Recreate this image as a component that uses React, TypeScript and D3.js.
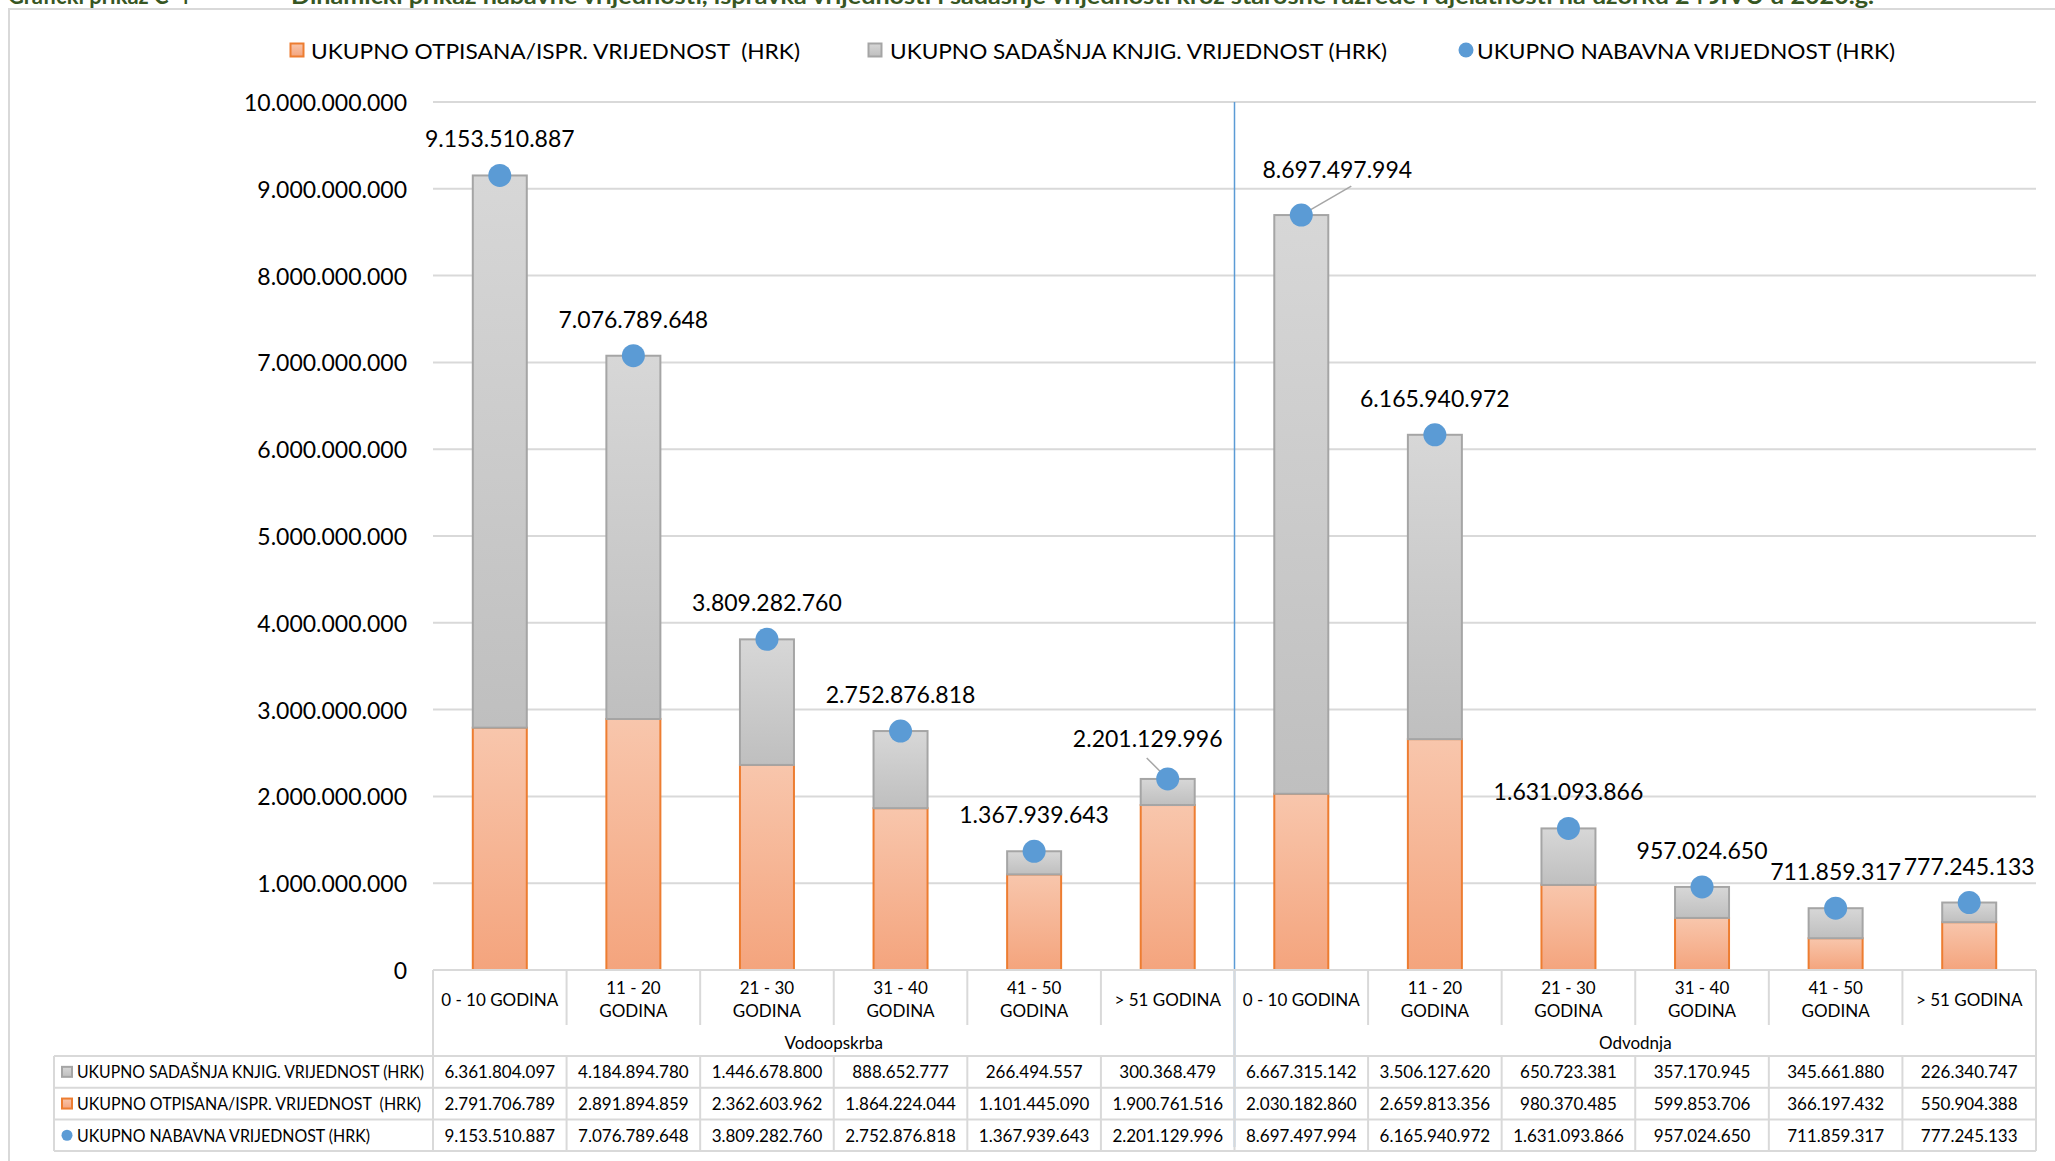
import React from "react";
import * as d3 from "d3";

// ---------------- DATA ----------------
const categories = [
  "0 - 10 GODINA",
  "11 - 20\nGODINA",
  "21 - 30\nGODINA",
  "31 - 40\nGODINA",
  "41 - 50\nGODINA",
  "> 51 GODINA",
];
const groups = ["Vodoopskrba", "Odvodnja"];

const sadasnja = [
  6361804097, 4184894780, 1446678800, 888652777, 266494557, 300368479,
  6667315142, 3506127620, 650723381, 357170945, 345661880, 226340747,
];
const otpisana = [
  2791706789, 2891894859, 2362603962, 1864224044, 1101445090, 1900761516,
  2030182860, 2659813356, 980370485, 599853706, 366197432, 550904388,
];
const nabavna = [
  9153510887, 7076789648, 3809282760, 2752876818, 1367939643, 2201129996,
  8697497994, 6165940972, 1631093866, 957024650, 711859317, 777245133,
];

const nameOtp = "UKUPNO OTPISANA/ISPR. VRIJEDNOST  (HRK)";
const nameSad = "UKUPNO SADAŠNJA KNJIG. VRIJEDNOST (HRK)";
const nameNab = "UKUPNO NABAVNA VRIJEDNOST (HRK)";

const yMax = 10000000000;
const yStep = 1000000000;

const titleLeft = "Grafički prikaz C-4";
const titleRight =
  "Dinamički prikaz nabavne vrijednosti, ispravka vrijednosti i sadašnje vrijednosti kroz starosne razrede i djelatnosti na uzorku 24 JIVU u 2020.g.";

// label nudges (index -> offset) for the two moved data labels with leader lines
const labelNudge: Record<number, { dx: number; dy: number; lx: number; ly: number }> = {
  5: { dx: -20, dy: -4, lx: -1, ly: 20 },
  6: { dx: 36, dy: -9, lx: 14, ly: 17 },
};

// ---------------- STYLE ----------------
const W = 2055;
const H = 1161;
const FONT = "Lato, 'Open Sans', sans-serif";
const GRID = "#D9D9D9";
const BLUE = "#5B9BD5";

const fmt = d3
  .formatLocale({ decimal: ",", thousands: ".", grouping: [3], currency: ["", ""] })
  .format(",d");

export default function App() {
  const n = groups.length * categories.length;
  const idx = d3.range(n);
  const plotLeft = 433;
  const plotRight = 2036;
  const yTop = 102;
  const yBase = 970;

  const x = d3.scaleBand<number>().domain(idx).range([plotLeft, plotRight]).padding(0);
  const y = d3.scaleLinear().domain([0, yMax]).range([yBase, yTop]);
  const bw = x.bandwidth();
  const barW = 54;
  const yTicks = d3.range(0, yMax + 1, yStep);

  const tableTop = 1056;
  const rowH = 31.7;
  const rows = [
    { name: nameSad, values: sadasnja, key: "sad", textLen: 347 },
    { name: nameOtp, values: otpisana, key: "otp", textLen: 344 },
    { name: nameNab, values: nabavna, key: "nab", textLen: 293 },
  ];
  const tableBottom = tableTop + rowH * 3;

  const key = (k: string, cx: number, cy: number, s: number) => {
    if (k === "nab") return <circle cx={cx} cy={cy} r={s / 2 + 0.5} fill={BLUE} />;
    return (
      <rect
        x={cx - s / 2}
        y={cy - s / 2}
        width={s}
        height={s}
        fill={k === "otp" ? "url(#gOrange)" : "url(#gGray)"}
        stroke={k === "otp" ? "#ED7D31" : "#A5A5A5"}
        strokeWidth={2}
      />
    );
  };

  return (
    <svg
      width={W}
      height={H}
      style={{ position: "absolute", left: 0, top: 0, background: "#fff" }}
      fontFamily={FONT}
    >
      <defs>
        <linearGradient id="gGray" x1="0" y1="0" x2="0" y2="1">
          <stop offset="0" stopColor="#D7D7D7" />
          <stop offset="1" stopColor="#BFBFBF" />
        </linearGradient>
        <linearGradient id="gOrange" x1="0" y1="0" x2="0" y2="1">
          <stop offset="0" stopColor="#F8C6AC" />
          <stop offset="1" stopColor="#F4A47D" />
        </linearGradient>
      </defs>
      <rect width={W} height={H} fill="#fff" />

      {/* clipped title strip */}
      <text x={8} y={4} fontSize={22} fontWeight={700} fill="#375623">
        {titleLeft}
      </text>
      <text
        x={291}
        y={4}
        fontSize={22}
        fontWeight={700}
        fill="#375623"
        textLength={1583}
        lengthAdjust="spacingAndGlyphs"
      >
        {titleRight}
      </text>

      {/* chart frame */}
      <rect x={9} y={9} width={W + 20} height={H + 20} fill="none" stroke={GRID} strokeWidth={2} />

      {/* legend */}
      <g fontSize={22} fill="#000">
        {key("otp", 297, 50, 13)}
        <text x={311} y={50} dominantBaseline="central" textLength={489} lengthAdjust="spacingAndGlyphs" style={{ whiteSpace: "pre" }}>
          {nameOtp}
        </text>
        {key("sad", 875, 50, 13)}
        <text x={890} y={50} dominantBaseline="central" textLength={497} lengthAdjust="spacingAndGlyphs">
          {nameSad}
        </text>
        {key("nab", 1466, 50, 14)}
        <text x={1477} y={50} dominantBaseline="central" textLength={418} lengthAdjust="spacingAndGlyphs">
          {nameNab}
        </text>
      </g>

      {/* gridlines */}
      {yTicks.map((t) => (
        <line key={t} x1={plotLeft} x2={plotRight} y1={y(t)} y2={y(t)} stroke={GRID} strokeWidth={2} />
      ))}
      {/* y labels */}
      {yTicks.map((t) => (
        <text key={"l" + t} x={407} y={y(t)} textAnchor="end" dominantBaseline="central" fontSize={23} fill="#000">
          {fmt(t)}
        </text>
      ))}

      {/* bars */}
      {idx.map((i) => {
        const cx = (x(i) as number) + bw / 2;
        const yO = y(otpisana[i]);
        const yS = y(otpisana[i] + sadasnja[i]);
        return (
          <g key={"b" + i}>
            <rect x={cx - barW / 2} y={yO} width={barW} height={yBase - yO} fill="url(#gOrange)" stroke="#ED7D31" strokeWidth={2} />
            <rect x={cx - barW / 2} y={yS} width={barW} height={yO - yS} fill="url(#gGray)" stroke="#A5A5A5" strokeWidth={2} />
          </g>
        );
      })}

      {/* separator between groups */}
      <line
        x1={x(categories.length) as number}
        x2={x(categories.length) as number}
        y1={yTop}
        y2={tableBottom - 4}
        stroke={BLUE}
        strokeWidth={1.5}
      />

      {/* dots + labels */}
      {idx.map((i) => {
        const cx = (x(i) as number) + bw / 2;
        const cy = y(nabavna[i]);
        const nud = labelNudge[i];
        const lx = cx + (nud ? nud.dx : 0);
        const ly = cy - 37 + (nud ? nud.dy : 0);
        return (
          <g key={"d" + i}>
            {nud && (
              <line x1={lx + nud.lx} y1={ly + nud.ly} x2={cx} y2={cy} stroke="#A6A6A6" strokeWidth={1.5} />
            )}
            <circle cx={cx} cy={cy} r={11.5} fill={BLUE} />
            <text x={lx} y={ly} textAnchor="middle" dominantBaseline="central" fontSize={23} fill="#000">
              {fmt(nabavna[i])}
            </text>
          </g>
        );
      })}

      {/* data table */}
      <g stroke={GRID} strokeWidth={2}>
        <line x1={plotLeft} x2={plotRight} y1={yBase} y2={yBase} />
        {[0, 1, 2, 3].map((r) => (
          <line key={"h" + r} x1={54} x2={plotRight} y1={tableTop + r * rowH} y2={tableTop + r * rowH} />
        ))}
        <line x1={54} x2={54} y1={tableTop} y2={tableBottom} />
        {d3.range(n + 1).map((c) => {
          const xx = c < n ? (x(c) as number) : plotRight;
          const full = c % categories.length === 0;
          return (
            <g key={"v" + c}>
              <line x1={xx} x2={xx} y1={yBase} y2={full ? tableBottom : 1025} />
              {!full && <line x1={xx} x2={xx} y1={tableTop} y2={tableBottom} />}
            </g>
          );
        })}
      </g>

      {/* category labels */}
      <g fontSize={17} fill="#000" textAnchor="middle">
        {idx.map((i) => {
          const cx = (x(i) as number) + bw / 2;
          const lines = categories[i % categories.length].split("\n");
          return lines.length === 1 ? (
            <text key={"c" + i} x={cx} y={999} dominantBaseline="central">
              {lines[0]}
            </text>
          ) : (
            <g key={"c" + i}>
              <text x={cx} y={987} dominantBaseline="central">{lines[0]}</text>
              <text x={cx} y={1010} dominantBaseline="central">{lines[1]}</text>
            </g>
          );
        })}
        {groups.map((g, gi) => {
          const x0 = x(gi * categories.length) as number;
          const x1 = x0 + bw * categories.length;
          return (
            <text key={g} x={(x0 + x1) / 2} y={1042} dominantBaseline="central">
              {g}
            </text>
          );
        })}
      </g>

      {/* table rows */}
      <g fontSize={17} fill="#000">
        {rows.map((r, ri) => {
          const cy = tableTop + rowH * ri + rowH / 2;
          return (
            <g key={r.key}>
              {key(r.key, r.key === "nab" ? 67 : 67, cy, 10)}
              <text x={77} y={cy} dominantBaseline="central" textLength={r.textLen} lengthAdjust="spacingAndGlyphs" style={{ whiteSpace: "pre" }}>
                {r.name}
              </text>
              {idx.map((i) => (
                <text key={i} x={(x(i) as number) + bw / 2} y={cy} textAnchor="middle" dominantBaseline="central">
                  {fmt(r.values[i])}
                </text>
              ))}
            </g>
          );
        })}
      </g>
    </svg>
  );
}
